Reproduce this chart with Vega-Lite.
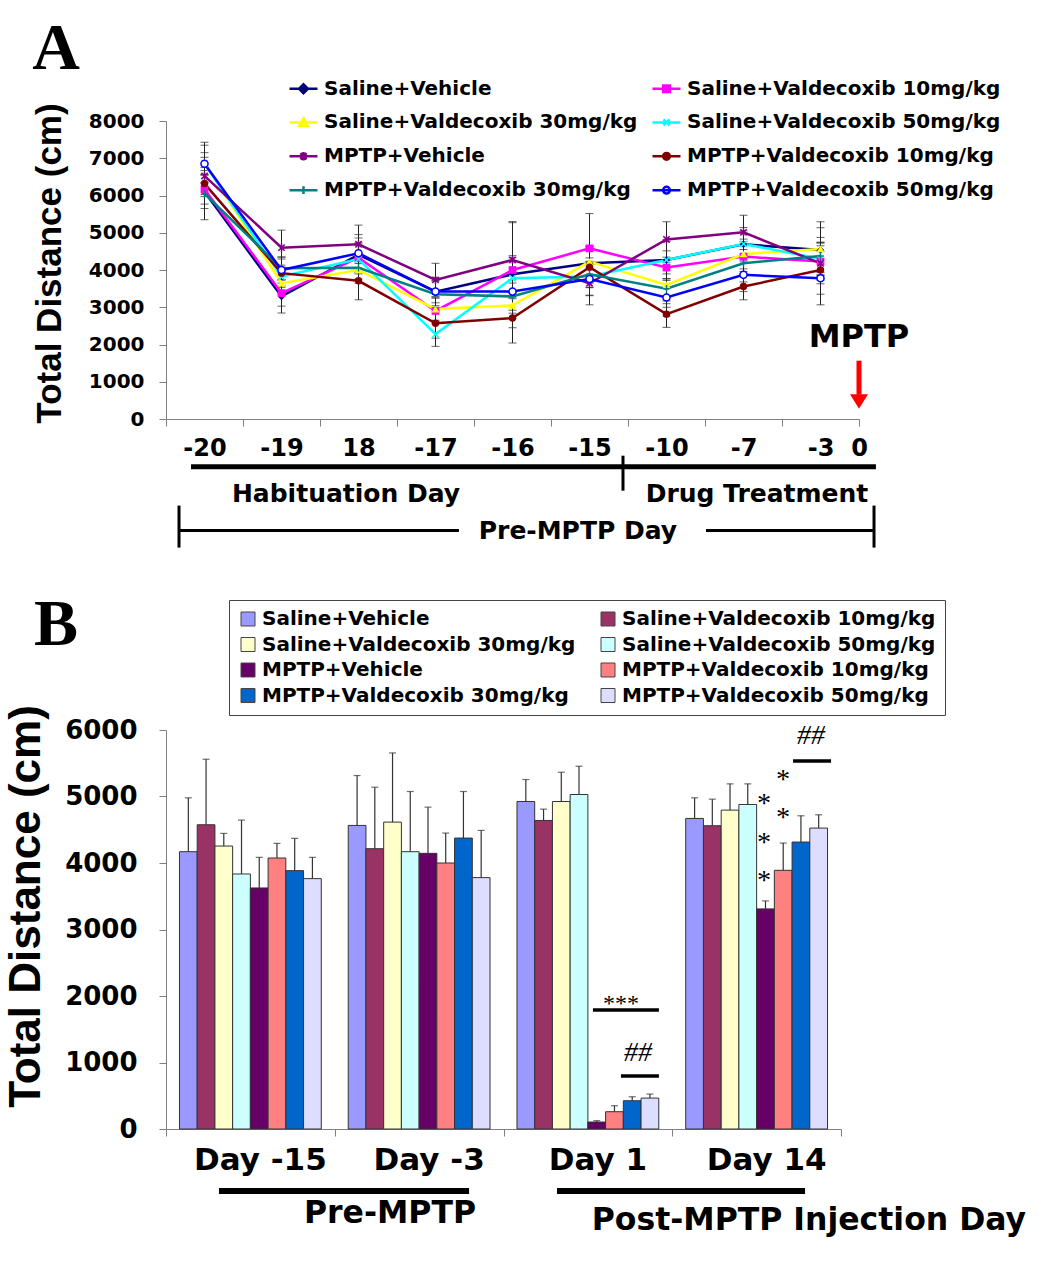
{
"$schema": "https://vega.github.io/schema/vega-lite/v6.json",
"background": "white",
"padding": {"left": 3, "top": 15, "right": 0, "bottom": 0},
"bounds": "flush",
"spacing": 311,
"config": {
  "view": {"stroke": null},
  "axis": {"grid": false, "domainColor": "#808080", "tickColor": "#808080", "labelColor": "black", "labelFont": "DejaVu Sans", "labelFontWeight": "bold", "titleColor": "black"},
  "text": {"font": "DejaVu Sans", "fontWeight": "bold", "color": "black"}
},
"resolve": {"scale": {"color": "independent", "x": "independent", "y": "independent"}, "legend": {"color": "independent"}},
"datasets": {
  "a": [
    {"t":0.5,"s":"Saline+Vehicle","v":6100,"e":450},{"t":1.5,"s":"Saline+Vehicle","v":3290,"e":445},{"t":2.5,"s":"Saline+Vehicle","v":4410,"e":450},{"t":3.5,"s":"Saline+Vehicle","v":3420,"e":300},{"t":4.5,"s":"Saline+Vehicle","v":3885,"e":500},{"t":5.5,"s":"Saline+Vehicle","v":4180,"e":450},{"t":6.5,"s":"Saline+Vehicle","v":4270,"e":500},{"t":7.5,"s":"Saline+Vehicle","v":4690,"e":450},{"t":8.5,"s":"Saline+Vehicle","v":4535,"e":600},
    {"t":0.5,"s":"Saline+Valdecoxib 10mg/kg","v":6170,"e":400},{"t":1.5,"s":"Saline+Valdecoxib 10mg/kg","v":3380,"e":350},{"t":2.5,"s":"Saline+Valdecoxib 10mg/kg","v":4330,"e":400},{"t":3.5,"s":"Saline+Valdecoxib 10mg/kg","v":2900,"e":350},{"t":4.5,"s":"Saline+Valdecoxib 10mg/kg","v":4000,"e":1300},{"t":5.5,"s":"Saline+Valdecoxib 10mg/kg","v":4580,"e":935},{"t":6.5,"s":"Saline+Valdecoxib 10mg/kg","v":4065,"e":450},{"t":7.5,"s":"Saline+Valdecoxib 10mg/kg","v":4360,"e":400},{"t":8.5,"s":"Saline+Valdecoxib 10mg/kg","v":4225,"e":500},
    {"t":0.5,"s":"Saline+Valdecoxib 30mg/kg","v":6880,"e":550},{"t":1.5,"s":"Saline+Valdecoxib 30mg/kg","v":3645,"e":300},{"t":2.5,"s":"Saline+Valdecoxib 30mg/kg","v":4000,"e":350},{"t":3.5,"s":"Saline+Valdecoxib 30mg/kg","v":2950,"e":300},{"t":4.5,"s":"Saline+Valdecoxib 30mg/kg","v":3050,"e":600},{"t":5.5,"s":"Saline+Valdecoxib 30mg/kg","v":4225,"e":400},{"t":6.5,"s":"Saline+Valdecoxib 30mg/kg","v":3600,"e":600},{"t":7.5,"s":"Saline+Valdecoxib 30mg/kg","v":4430,"e":400},{"t":8.5,"s":"Saline+Valdecoxib 30mg/kg","v":4565,"e":730},
    {"t":0.5,"s":"Saline+Valdecoxib 50mg/kg","v":6850,"e":300},{"t":1.5,"s":"Saline+Valdecoxib 50mg/kg","v":3825,"e":250},{"t":2.5,"s":"Saline+Valdecoxib 50mg/kg","v":4295,"e":400},{"t":3.5,"s":"Saline+Valdecoxib 50mg/kg","v":2280,"e":330},{"t":4.5,"s":"Saline+Valdecoxib 50mg/kg","v":3780,"e":550},{"t":5.5,"s":"Saline+Valdecoxib 50mg/kg","v":3825,"e":500},{"t":6.5,"s":"Saline+Valdecoxib 50mg/kg","v":4270,"e":550},{"t":7.5,"s":"Saline+Valdecoxib 50mg/kg","v":4700,"e":350},{"t":8.5,"s":"Saline+Valdecoxib 50mg/kg","v":4300,"e":450},
    {"t":0.5,"s":"MPTP+Vehicle","v":6525,"e":500},{"t":1.5,"s":"MPTP+Vehicle","v":4600,"e":470},{"t":2.5,"s":"MPTP+Vehicle","v":4690,"e":515},{"t":3.5,"s":"MPTP+Vehicle","v":3735,"e":445},{"t":4.5,"s":"MPTP+Vehicle","v":4270,"e":1000},{"t":5.5,"s":"MPTP+Vehicle","v":3645,"e":580},{"t":6.5,"s":"MPTP+Vehicle","v":4820,"e":475},{"t":7.5,"s":"MPTP+Vehicle","v":5010,"e":460},{"t":8.5,"s":"MPTP+Vehicle","v":4180,"e":550},
    {"t":0.5,"s":"MPTP+Valdecoxib 10mg/kg","v":6320,"e":350},{"t":1.5,"s":"MPTP+Valdecoxib 10mg/kg","v":3915,"e":380},{"t":2.5,"s":"MPTP+Valdecoxib 10mg/kg","v":3710,"e":510},{"t":3.5,"s":"MPTP+Valdecoxib 10mg/kg","v":2570,"e":400},{"t":4.5,"s":"MPTP+Valdecoxib 10mg/kg","v":2710,"e":670},{"t":5.5,"s":"MPTP+Valdecoxib 10mg/kg","v":4075,"e":550},{"t":6.5,"s":"MPTP+Valdecoxib 10mg/kg","v":2815,"e":355},{"t":7.5,"s":"MPTP+Valdecoxib 10mg/kg","v":3555,"e":355},{"t":8.5,"s":"MPTP+Valdecoxib 10mg/kg","v":4000,"e":650},
    {"t":0.5,"s":"MPTP+Valdecoxib 30mg/kg","v":6050,"e":700},{"t":1.5,"s":"MPTP+Valdecoxib 30mg/kg","v":4045,"e":300},{"t":2.5,"s":"MPTP+Valdecoxib 30mg/kg","v":4060,"e":300},{"t":3.5,"s":"MPTP+Valdecoxib 30mg/kg","v":3350,"e":350},{"t":4.5,"s":"MPTP+Valdecoxib 30mg/kg","v":3290,"e":450},{"t":5.5,"s":"MPTP+Valdecoxib 30mg/kg","v":3885,"e":350},{"t":6.5,"s":"MPTP+Valdecoxib 30mg/kg","v":3495,"e":400},{"t":7.5,"s":"MPTP+Valdecoxib 30mg/kg","v":4180,"e":500},{"t":8.5,"s":"MPTP+Valdecoxib 30mg/kg","v":4375,"e":500},
    {"t":0.5,"s":"MPTP+Valdecoxib 50mg/kg","v":6850,"e":500},{"t":1.5,"s":"MPTP+Valdecoxib 50mg/kg","v":4000,"e":350},{"t":2.5,"s":"MPTP+Valdecoxib 50mg/kg","v":4450,"e":500},{"t":3.5,"s":"MPTP+Valdecoxib 50mg/kg","v":3420,"e":380},{"t":4.5,"s":"MPTP+Valdecoxib 50mg/kg","v":3420,"e":500},{"t":5.5,"s":"MPTP+Valdecoxib 50mg/kg","v":3760,"e":450},{"t":6.5,"s":"MPTP+Valdecoxib 50mg/kg","v":3260,"e":500},{"t":7.5,"s":"MPTP+Valdecoxib 50mg/kg","v":3870,"e":450},{"t":8.5,"s":"MPTP+Valdecoxib 50mg/kg","v":3780,"e":715}
  ],
  "b": [
    {"d":"Day -15","g":"Saline+Vehicle","v":4170,"top":4980},{"d":"Day -15","g":"Saline+Valdecoxib 10mg/kg","v":4575,"top":5560},{"d":"Day -15","g":"Saline+Valdecoxib 30mg/kg","v":4255,"top":4445},{"d":"Day -15","g":"Saline+Valdecoxib 50mg/kg","v":3835,"top":4645},{"d":"Day -15","g":"MPTP+Vehicle","v":3625,"top":4085},{"d":"Day -15","g":"MPTP+Valdecoxib 10mg/kg","v":4075,"top":4295},{"d":"Day -15","g":"MPTP+Valdecoxib 30mg/kg","v":3885,"top":4370},{"d":"Day -15","g":"MPTP+Valdecoxib 50mg/kg","v":3765,"top":4085},
    {"d":"Day -3","g":"Saline+Vehicle","v":4565,"top":5315},{"d":"Day -3","g":"Saline+Valdecoxib 10mg/kg","v":4215,"top":5140},{"d":"Day -3","g":"Saline+Valdecoxib 30mg/kg","v":4615,"top":5655},{"d":"Day -3","g":"Saline+Valdecoxib 50mg/kg","v":4170,"top":5075},{"d":"Day -3","g":"MPTP+Vehicle","v":4145,"top":4840},{"d":"Day -3","g":"MPTP+Valdecoxib 10mg/kg","v":4000,"top":4450},{"d":"Day -3","g":"MPTP+Valdecoxib 30mg/kg","v":4375,"top":5075},{"d":"Day -3","g":"MPTP+Valdecoxib 50mg/kg","v":3780,"top":4490},
    {"d":"Day 1","g":"Saline+Vehicle","v":4925,"top":5255},{"d":"Day 1","g":"Saline+Valdecoxib 10mg/kg","v":4640,"top":4810},{"d":"Day 1","g":"Saline+Valdecoxib 30mg/kg","v":4925,"top":5365},{"d":"Day 1","g":"Saline+Valdecoxib 50mg/kg","v":5030,"top":5455},{"d":"Day 1","g":"MPTP+Vehicle","v":105,"top":125},{"d":"Day 1","g":"MPTP+Valdecoxib 10mg/kg","v":260,"top":350},{"d":"Day 1","g":"MPTP+Valdecoxib 30mg/kg","v":425,"top":485},{"d":"Day 1","g":"MPTP+Valdecoxib 50mg/kg","v":465,"top":525},
    {"d":"Day 14","g":"Saline+Vehicle","v":4670,"top":4980},{"d":"Day 14","g":"Saline+Valdecoxib 10mg/kg","v":4560,"top":4960},{"d":"Day 14","g":"Saline+Valdecoxib 30mg/kg","v":4795,"top":5190},{"d":"Day 14","g":"Saline+Valdecoxib 50mg/kg","v":4880,"top":5190},{"d":"Day 14","g":"MPTP+Vehicle","v":3310,"top":3430},{"d":"Day 14","g":"MPTP+Valdecoxib 10mg/kg","v":3890,"top":4300},{"d":"Day 14","g":"MPTP+Valdecoxib 30mg/kg","v":4315,"top":4710},{"d":"Day 14","g":"MPTP+Valdecoxib 50mg/kg","v":4525,"top":4725}
  ]
},
"vconcat": [
  {
    "width": 693,
    "height": 298,
    "layer": [
      {
        "data": {"name": "a"},
        "mark": {"type": "errorbar", "ticks": {"size": 8}, "color": "#222222", "thickness": 1},
        "encoding": {
          "x": {"field": "t", "type": "quantitative", "title": null, "scale": {"domain": [0, 9]},
            "axis": {"values": [0,0.5,1,1.5,2,2.5,3,3.5,4,4.5,5,5.5,6,6.5,7,7.5,8,8.5,9], "title": null, "tickSize": 7, "tickOpacity": {"condition": {"test": "datum.value % 1 != 0", "value": 0}, "value": 1}, "labelExpr": "datum.value == 9 ? '0' : (datum.value % 1 == 0 ? '' : ['-20','-19','18','-17','-16','-15','-10','-7','-3'][floor(datum.value)])", "labelFontSize": 24, "labelPadding": 10, "labelOverlap": false, "labelFlush": false, "labelBound": false}},
          "y": {"field": "v", "type": "quantitative", "title": "Total Distance (cm)", "scale": {"domain": [0, 8000]},
            "axis": {"values": [0,1000,2000,3000,4000,5000,6000,7000,8000], "format": "d", "title": "Total Distance (cm)", "titleFont": "Liberation Sans", "titleFontSize": 35, "titleFontWeight": "bold", "titleX": -117, "titleY": 142, "titleAngle": -90, "titleAlign": "center", "titleBaseline": "middle", "tickSize": 7, "labelFontSize": 20, "labelPadding": 15, "labelOverlap": false}},
          "yError": {"field": "e"}
        }
      },
      {
        "data": {"name": "a"},
        "mark": {"type": "line", "strokeWidth": 2.5},
        "encoding": {
          "x": {"field": "t", "type": "quantitative", "title": null, "scale": {"domain": [0, 9]},
            "axis": {"values": [0,0.5,1,1.5,2,2.5,3,3.5,4,4.5,5,5.5,6,6.5,7,7.5,8,8.5,9], "title": null, "tickSize": 7, "tickOpacity": {"condition": {"test": "datum.value % 1 != 0", "value": 0}, "value": 1}, "labelExpr": "datum.value == 9 ? '0' : (datum.value % 1 == 0 ? '' : ['-20','-19','18','-17','-16','-15','-10','-7','-3'][floor(datum.value)])", "labelFontSize": 24, "labelPadding": 10, "labelOverlap": false, "labelFlush": false, "labelBound": false}},
          "y": {"field": "v", "type": "quantitative", "title": "Total Distance (cm)", "scale": {"domain": [0, 8000]},
            "axis": {"values": [0,1000,2000,3000,4000,5000,6000,7000,8000], "format": "d", "title": "Total Distance (cm)", "titleFont": "Liberation Sans", "titleFontSize": 35, "titleFontWeight": "bold", "titleX": -117, "titleY": 142, "titleAngle": -90, "titleAlign": "center", "titleBaseline": "middle", "tickSize": 7, "labelFontSize": 20, "labelPadding": 15, "labelOverlap": false}},
          "color": {"field": "s", "type": "nominal",
            "scale": {"domain": ["Saline+Vehicle","Saline+Valdecoxib 10mg/kg","Saline+Valdecoxib 30mg/kg","Saline+Valdecoxib 50mg/kg","MPTP+Vehicle","MPTP+Valdecoxib 10mg/kg","MPTP+Valdecoxib 30mg/kg","MPTP+Valdecoxib 50mg/kg"],
                      "range": ["#000080","#FF00FF","#FFFF00","#00FFFF","#800080","#800000","#008080","#0000FF"]},
            "legend": {"title": null, "orient": "none", "legendX": 122, "legendY": -48, "columns": 2, "columnPadding": 9, "rowPadding": 7.9, "padding": 0,
              "values": ["Saline+Vehicle","Saline+Valdecoxib 30mg/kg","MPTP+Vehicle","MPTP+Valdecoxib 30mg/kg","Saline+Valdecoxib 10mg/kg","Saline+Valdecoxib 50mg/kg","MPTP+Valdecoxib 10mg/kg","MPTP+Valdecoxib 50mg/kg"],
              "symbolSize": 784, "symbolStrokeWidth": 2.5, "labelFont": "DejaVu Sans", "labelFontWeight": "bold", "labelFontSize": 20, "labelOffset": 5, "labelLimit": 500, "labelColor": "black",
              "encode": {"symbols": {"update": {
                "shape": {"signal": "['M-1,0H1M0,-0.32L0.32,0L0,0.32L-0.32,0Z','M-1,0H1M-0.24,-0.24H0.24V0.24H-0.24Z','M-1,0H1M0,-0.3L0.3,0.24L-0.3,0.24Z','M-1,0H1M-0.22,-0.22L0.22,0.22M-0.22,0.22L0.22,-0.22','M-1,0H1M-0.22,-0.22L0.22,0.22M-0.22,0.22L0.22,-0.22M0,-0.3V0.3','M-1,0H1M-0.24,0A0.24,0.24,0,1,0,0.24,0A0.24,0.24,0,1,0,-0.24,0Z','M-1,0H1M0,-0.28V0.28','M-1,0H1M-0.24,0A0.24,0.24,0,1,0,0.24,0A0.24,0.24,0,1,0,-0.24,0Z'][indexof(['Saline+Vehicle','Saline+Valdecoxib 10mg/kg','Saline+Valdecoxib 30mg/kg','Saline+Valdecoxib 50mg/kg','MPTP+Vehicle','MPTP+Valdecoxib 10mg/kg','MPTP+Valdecoxib 30mg/kg','MPTP+Valdecoxib 50mg/kg'], datum.value)]"},
                "fill": {"signal": "['#000080','#FF00FF','#FFFF00','transparent','transparent','#800000','transparent','#ffffff'][indexof(['Saline+Vehicle','Saline+Valdecoxib 10mg/kg','Saline+Valdecoxib 30mg/kg','Saline+Valdecoxib 50mg/kg','MPTP+Vehicle','MPTP+Valdecoxib 10mg/kg','MPTP+Valdecoxib 30mg/kg','MPTP+Valdecoxib 50mg/kg'], datum.value)]"},
                "strokeWidth": {"value": 2.5}
              }}}}}
        }
      },
      {
        "data": {"name": "a"},
        "transform": [{"filter": {"field": "s", "equal": "Saline+Vehicle"}}],
        "mark": {"type": "point", "shape": "diamond", "filled": true, "color": "#000080", "size": 55, "opacity": 1},
        "encoding": {
          "x": {"field": "t", "type": "quantitative", "title": null, "scale": {"domain": [0, 9]},
            "axis": {"values": [0,0.5,1,1.5,2,2.5,3,3.5,4,4.5,5,5.5,6,6.5,7,7.5,8,8.5,9], "title": null, "tickSize": 7, "tickOpacity": {"condition": {"test": "datum.value % 1 != 0", "value": 0}, "value": 1}, "labelExpr": "datum.value == 9 ? '0' : (datum.value % 1 == 0 ? '' : ['-20','-19','18','-17','-16','-15','-10','-7','-3'][floor(datum.value)])", "labelFontSize": 24, "labelPadding": 10, "labelOverlap": false, "labelFlush": false, "labelBound": false}},
          "y": {"field": "v", "type": "quantitative", "title": "Total Distance (cm)", "scale": {"domain": [0, 8000]},
            "axis": {"values": [0,1000,2000,3000,4000,5000,6000,7000,8000], "format": "d", "title": "Total Distance (cm)", "titleFont": "Liberation Sans", "titleFontSize": 35, "titleFontWeight": "bold", "titleX": -117, "titleY": 142, "titleAngle": -90, "titleAlign": "center", "titleBaseline": "middle", "tickSize": 7, "labelFontSize": 20, "labelPadding": 15, "labelOverlap": false}}
        }
      },
      {
        "data": {"name": "a"},
        "transform": [{"filter": {"field": "s", "equal": "Saline+Valdecoxib 10mg/kg"}}],
        "mark": {"type": "point", "shape": "square", "filled": true, "color": "#FF00FF", "size": 60, "opacity": 1},
        "encoding": {
          "x": {"field": "t", "type": "quantitative", "title": null, "scale": {"domain": [0, 9]},
            "axis": {"values": [0,0.5,1,1.5,2,2.5,3,3.5,4,4.5,5,5.5,6,6.5,7,7.5,8,8.5,9], "title": null, "tickSize": 7, "tickOpacity": {"condition": {"test": "datum.value % 1 != 0", "value": 0}, "value": 1}, "labelExpr": "datum.value == 9 ? '0' : (datum.value % 1 == 0 ? '' : ['-20','-19','18','-17','-16','-15','-10','-7','-3'][floor(datum.value)])", "labelFontSize": 24, "labelPadding": 10, "labelOverlap": false, "labelFlush": false, "labelBound": false}},
          "y": {"field": "v", "type": "quantitative", "title": "Total Distance (cm)", "scale": {"domain": [0, 8000]},
            "axis": {"values": [0,1000,2000,3000,4000,5000,6000,7000,8000], "format": "d", "title": "Total Distance (cm)", "titleFont": "Liberation Sans", "titleFontSize": 35, "titleFontWeight": "bold", "titleX": -117, "titleY": 142, "titleAngle": -90, "titleAlign": "center", "titleBaseline": "middle", "tickSize": 7, "labelFontSize": 20, "labelPadding": 15, "labelOverlap": false}}
        }
      },
      {
        "data": {"name": "a"},
        "transform": [{"filter": {"field": "s", "equal": "Saline+Valdecoxib 30mg/kg"}}],
        "mark": {"type": "point", "shape": "triangle-up", "filled": true, "color": "#FFFF00", "size": 60, "opacity": 1},
        "encoding": {
          "x": {"field": "t", "type": "quantitative", "title": null, "scale": {"domain": [0, 9]},
            "axis": {"values": [0,0.5,1,1.5,2,2.5,3,3.5,4,4.5,5,5.5,6,6.5,7,7.5,8,8.5,9], "title": null, "tickSize": 7, "tickOpacity": {"condition": {"test": "datum.value % 1 != 0", "value": 0}, "value": 1}, "labelExpr": "datum.value == 9 ? '0' : (datum.value % 1 == 0 ? '' : ['-20','-19','18','-17','-16','-15','-10','-7','-3'][floor(datum.value)])", "labelFontSize": 24, "labelPadding": 10, "labelOverlap": false, "labelFlush": false, "labelBound": false}},
          "y": {"field": "v", "type": "quantitative", "title": "Total Distance (cm)", "scale": {"domain": [0, 8000]},
            "axis": {"values": [0,1000,2000,3000,4000,5000,6000,7000,8000], "format": "d", "title": "Total Distance (cm)", "titleFont": "Liberation Sans", "titleFontSize": 35, "titleFontWeight": "bold", "titleX": -117, "titleY": 142, "titleAngle": -90, "titleAlign": "center", "titleBaseline": "middle", "tickSize": 7, "labelFontSize": 20, "labelPadding": 15, "labelOverlap": false}}
        }
      },
      {
        "data": {"name": "a"},
        "transform": [{"filter": {"field": "s", "equal": "Saline+Valdecoxib 50mg/kg"}}],
        "mark": {"type": "point", "shape": "M-1,-1L1,1M-1,1L1,-1", "filled": false, "color": "#00FFFF", "strokeWidth": 1.5, "size": 40, "opacity": 1},
        "encoding": {
          "x": {"field": "t", "type": "quantitative", "title": null, "scale": {"domain": [0, 9]},
            "axis": {"values": [0,0.5,1,1.5,2,2.5,3,3.5,4,4.5,5,5.5,6,6.5,7,7.5,8,8.5,9], "title": null, "tickSize": 7, "tickOpacity": {"condition": {"test": "datum.value % 1 != 0", "value": 0}, "value": 1}, "labelExpr": "datum.value == 9 ? '0' : (datum.value % 1 == 0 ? '' : ['-20','-19','18','-17','-16','-15','-10','-7','-3'][floor(datum.value)])", "labelFontSize": 24, "labelPadding": 10, "labelOverlap": false, "labelFlush": false, "labelBound": false}},
          "y": {"field": "v", "type": "quantitative", "title": "Total Distance (cm)", "scale": {"domain": [0, 8000]},
            "axis": {"values": [0,1000,2000,3000,4000,5000,6000,7000,8000], "format": "d", "title": "Total Distance (cm)", "titleFont": "Liberation Sans", "titleFontSize": 35, "titleFontWeight": "bold", "titleX": -117, "titleY": 142, "titleAngle": -90, "titleAlign": "center", "titleBaseline": "middle", "tickSize": 7, "labelFontSize": 20, "labelPadding": 15, "labelOverlap": false}}
        }
      },
      {
        "data": {"name": "a"},
        "transform": [{"filter": {"field": "s", "equal": "MPTP+Vehicle"}}],
        "mark": {"type": "point", "shape": "M-1,-1L1,1M-1,1L1,-1M0,-1.3V1.3", "filled": false, "color": "#800080", "strokeWidth": 1.5, "size": 40, "opacity": 1},
        "encoding": {
          "x": {"field": "t", "type": "quantitative", "title": null, "scale": {"domain": [0, 9]},
            "axis": {"values": [0,0.5,1,1.5,2,2.5,3,3.5,4,4.5,5,5.5,6,6.5,7,7.5,8,8.5,9], "title": null, "tickSize": 7, "tickOpacity": {"condition": {"test": "datum.value % 1 != 0", "value": 0}, "value": 1}, "labelExpr": "datum.value == 9 ? '0' : (datum.value % 1 == 0 ? '' : ['-20','-19','18','-17','-16','-15','-10','-7','-3'][floor(datum.value)])", "labelFontSize": 24, "labelPadding": 10, "labelOverlap": false, "labelFlush": false, "labelBound": false}},
          "y": {"field": "v", "type": "quantitative", "title": "Total Distance (cm)", "scale": {"domain": [0, 8000]},
            "axis": {"values": [0,1000,2000,3000,4000,5000,6000,7000,8000], "format": "d", "title": "Total Distance (cm)", "titleFont": "Liberation Sans", "titleFontSize": 35, "titleFontWeight": "bold", "titleX": -117, "titleY": 142, "titleAngle": -90, "titleAlign": "center", "titleBaseline": "middle", "tickSize": 7, "labelFontSize": 20, "labelPadding": 15, "labelOverlap": false}}
        }
      },
      {
        "data": {"name": "a"},
        "transform": [{"filter": {"field": "s", "equal": "MPTP+Valdecoxib 10mg/kg"}}],
        "mark": {"type": "point", "shape": "circle", "filled": true, "color": "#800000", "size": 55, "opacity": 1},
        "encoding": {
          "x": {"field": "t", "type": "quantitative", "title": null, "scale": {"domain": [0, 9]},
            "axis": {"values": [0,0.5,1,1.5,2,2.5,3,3.5,4,4.5,5,5.5,6,6.5,7,7.5,8,8.5,9], "title": null, "tickSize": 7, "tickOpacity": {"condition": {"test": "datum.value % 1 != 0", "value": 0}, "value": 1}, "labelExpr": "datum.value == 9 ? '0' : (datum.value % 1 == 0 ? '' : ['-20','-19','18','-17','-16','-15','-10','-7','-3'][floor(datum.value)])", "labelFontSize": 24, "labelPadding": 10, "labelOverlap": false, "labelFlush": false, "labelBound": false}},
          "y": {"field": "v", "type": "quantitative", "title": "Total Distance (cm)", "scale": {"domain": [0, 8000]},
            "axis": {"values": [0,1000,2000,3000,4000,5000,6000,7000,8000], "format": "d", "title": "Total Distance (cm)", "titleFont": "Liberation Sans", "titleFontSize": 35, "titleFontWeight": "bold", "titleX": -117, "titleY": 142, "titleAngle": -90, "titleAlign": "center", "titleBaseline": "middle", "tickSize": 7, "labelFontSize": 20, "labelPadding": 15, "labelOverlap": false}}
        }
      },
      {
        "data": {"name": "a"},
        "transform": [{"filter": {"field": "s", "equal": "MPTP+Valdecoxib 30mg/kg"}}],
        "mark": {"type": "point", "shape": "M0,-1.2V1.2M-1,0H1", "filled": false, "color": "#008080", "strokeWidth": 1.5, "size": 40, "opacity": 1},
        "encoding": {
          "x": {"field": "t", "type": "quantitative", "title": null, "scale": {"domain": [0, 9]},
            "axis": {"values": [0,0.5,1,1.5,2,2.5,3,3.5,4,4.5,5,5.5,6,6.5,7,7.5,8,8.5,9], "title": null, "tickSize": 7, "tickOpacity": {"condition": {"test": "datum.value % 1 != 0", "value": 0}, "value": 1}, "labelExpr": "datum.value == 9 ? '0' : (datum.value % 1 == 0 ? '' : ['-20','-19','18','-17','-16','-15','-10','-7','-3'][floor(datum.value)])", "labelFontSize": 24, "labelPadding": 10, "labelOverlap": false, "labelFlush": false, "labelBound": false}},
          "y": {"field": "v", "type": "quantitative", "title": "Total Distance (cm)", "scale": {"domain": [0, 8000]},
            "axis": {"values": [0,1000,2000,3000,4000,5000,6000,7000,8000], "format": "d", "title": "Total Distance (cm)", "titleFont": "Liberation Sans", "titleFontSize": 35, "titleFontWeight": "bold", "titleX": -117, "titleY": 142, "titleAngle": -90, "titleAlign": "center", "titleBaseline": "middle", "tickSize": 7, "labelFontSize": 20, "labelPadding": 15, "labelOverlap": false}}
        }
      },
      {
        "data": {"name": "a"},
        "transform": [{"filter": {"field": "s", "equal": "MPTP+Valdecoxib 50mg/kg"}}],
        "mark": {"type": "point", "shape": "circle", "filled": true, "fill": "#FFFFFF", "stroke": "#0000FF", "strokeWidth": 1.5, "size": 50, "opacity": 1},
        "encoding": {
          "x": {"field": "t", "type": "quantitative", "title": null, "scale": {"domain": [0, 9]},
            "axis": {"values": [0,0.5,1,1.5,2,2.5,3,3.5,4,4.5,5,5.5,6,6.5,7,7.5,8,8.5,9], "title": null, "tickSize": 7, "tickOpacity": {"condition": {"test": "datum.value % 1 != 0", "value": 0}, "value": 1}, "labelExpr": "datum.value == 9 ? '0' : (datum.value % 1 == 0 ? '' : ['-20','-19','18','-17','-16','-15','-10','-7','-3'][floor(datum.value)])", "labelFontSize": 24, "labelPadding": 10, "labelOverlap": false, "labelFlush": false, "labelBound": false}},
          "y": {"field": "v", "type": "quantitative", "title": "Total Distance (cm)", "scale": {"domain": [0, 8000]},
            "axis": {"values": [0,1000,2000,3000,4000,5000,6000,7000,8000], "format": "d", "title": "Total Distance (cm)", "titleFont": "Liberation Sans", "titleFontSize": 35, "titleFontWeight": "bold", "titleX": -117, "titleY": 142, "titleAngle": -90, "titleAlign": "center", "titleBaseline": "middle", "tickSize": 7, "labelFontSize": 20, "labelPadding": 15, "labelOverlap": false}}
        }
      },
      {
        "data": {"values": [{"x": 0.325, "x2": 9.22, "y": -1280}]},
        "mark": {"type": "rule", "strokeWidth": 5, "color": "black"},
        "encoding": {
          "x": {"field": "x", "type": "quantitative", "title": null, "scale": {"domain": [0, 9]},
            "axis": {"values": [0,0.5,1,1.5,2,2.5,3,3.5,4,4.5,5,5.5,6,6.5,7,7.5,8,8.5,9], "title": null, "tickSize": 7, "tickOpacity": {"condition": {"test": "datum.value % 1 != 0", "value": 0}, "value": 1}, "labelExpr": "datum.value == 9 ? '0' : (datum.value % 1 == 0 ? '' : ['-20','-19','18','-17','-16','-15','-10','-7','-3'][floor(datum.value)])", "labelFontSize": 24, "labelPadding": 10, "labelOverlap": false, "labelFlush": false, "labelBound": false}},
          "x2": {"field": "x2"},
          "y": {"field": "y", "type": "quantitative", "title": "Total Distance (cm)", "scale": {"domain": [0, 8000]},
            "axis": {"values": [0,1000,2000,3000,4000,5000,6000,7000,8000], "format": "d", "title": "Total Distance (cm)", "titleFont": "Liberation Sans", "titleFontSize": 35, "titleFontWeight": "bold", "titleX": -117, "titleY": 142, "titleAngle": -90, "titleAlign": "center", "titleBaseline": "middle", "tickSize": 7, "labelFontSize": 20, "labelPadding": 15, "labelOverlap": false}}
        }
      },
      {
        "data": {"values": [{"x": 5.935, "y": -985, "y2": -1924}, {"x": 0.169, "y": -2325, "y2": -3452}, {"x": 9.195, "y": -2325, "y2": -3452}]},
        "mark": {"type": "rule", "strokeWidth": 3, "color": "black"},
        "encoding": {
          "x": {"field": "x", "type": "quantitative", "title": null, "scale": {"domain": [0, 9]},
            "axis": {"values": [0,0.5,1,1.5,2,2.5,3,3.5,4,4.5,5,5.5,6,6.5,7,7.5,8,8.5,9], "title": null, "tickSize": 7, "tickOpacity": {"condition": {"test": "datum.value % 1 != 0", "value": 0}, "value": 1}, "labelExpr": "datum.value == 9 ? '0' : (datum.value % 1 == 0 ? '' : ['-20','-19','18','-17','-16','-15','-10','-7','-3'][floor(datum.value)])", "labelFontSize": 24, "labelPadding": 10, "labelOverlap": false, "labelFlush": false, "labelBound": false}},
          "y": {"field": "y", "type": "quantitative", "title": "Total Distance (cm)", "scale": {"domain": [0, 8000]},
            "axis": {"values": [0,1000,2000,3000,4000,5000,6000,7000,8000], "format": "d", "title": "Total Distance (cm)", "titleFont": "Liberation Sans", "titleFontSize": 35, "titleFontWeight": "bold", "titleX": -117, "titleY": 142, "titleAngle": -90, "titleAlign": "center", "titleBaseline": "middle", "tickSize": 7, "labelFontSize": 20, "labelPadding": 15, "labelOverlap": false}},
          "y2": {"field": "y2"}
        }
      },
      {
        "data": {"values": [{"x": 0.169, "x2": 3.805, "y": -2995}, {"x": 7.013, "x2": 9.195, "y": -2995}]},
        "mark": {"type": "rule", "strokeWidth": 3, "color": "black"},
        "encoding": {
          "x": {"field": "x", "type": "quantitative", "title": null, "scale": {"domain": [0, 9]},
            "axis": {"values": [0,0.5,1,1.5,2,2.5,3,3.5,4,4.5,5,5.5,6,6.5,7,7.5,8,8.5,9], "title": null, "tickSize": 7, "tickOpacity": {"condition": {"test": "datum.value % 1 != 0", "value": 0}, "value": 1}, "labelExpr": "datum.value == 9 ? '0' : (datum.value % 1 == 0 ? '' : ['-20','-19','18','-17','-16','-15','-10','-7','-3'][floor(datum.value)])", "labelFontSize": 24, "labelPadding": 10, "labelOverlap": false, "labelFlush": false, "labelBound": false}},
          "x2": {"field": "x2"},
          "y": {"field": "y", "type": "quantitative", "title": "Total Distance (cm)", "scale": {"domain": [0, 8000]},
            "axis": {"values": [0,1000,2000,3000,4000,5000,6000,7000,8000], "format": "d", "title": "Total Distance (cm)", "titleFont": "Liberation Sans", "titleFontSize": 35, "titleFontWeight": "bold", "titleX": -117, "titleY": 142, "titleAngle": -90, "titleAlign": "center", "titleBaseline": "middle", "tickSize": 7, "labelFontSize": 20, "labelPadding": 15, "labelOverlap": false}}
        }
      },
      {
        "data": {"values": [{"x": 2.338, "y": -2004, "txt": "Habituation Day"}, {"x": 7.675, "y": -2004, "txt": "Drug Treatment"}, {"x": 5.35, "y": -2995, "txt": "Pre-MPTP Day"}]},
        "mark": {"type": "text", "fontSize": 25, "align": "center", "baseline": "middle"},
        "encoding": {
          "x": {"field": "x", "type": "quantitative", "title": null, "scale": {"domain": [0, 9]},
            "axis": {"values": [0,0.5,1,1.5,2,2.5,3,3.5,4,4.5,5,5.5,6,6.5,7,7.5,8,8.5,9], "title": null, "tickSize": 7, "tickOpacity": {"condition": {"test": "datum.value % 1 != 0", "value": 0}, "value": 1}, "labelExpr": "datum.value == 9 ? '0' : (datum.value % 1 == 0 ? '' : ['-20','-19','18','-17','-16','-15','-10','-7','-3'][floor(datum.value)])", "labelFontSize": 24, "labelPadding": 10, "labelOverlap": false, "labelFlush": false, "labelBound": false}},
          "y": {"field": "y", "type": "quantitative", "title": "Total Distance (cm)", "scale": {"domain": [0, 8000]},
            "axis": {"values": [0,1000,2000,3000,4000,5000,6000,7000,8000], "format": "d", "title": "Total Distance (cm)", "titleFont": "Liberation Sans", "titleFontSize": 35, "titleFontWeight": "bold", "titleX": -117, "titleY": 142, "titleAngle": -90, "titleAlign": "center", "titleBaseline": "middle", "tickSize": 7, "labelFontSize": 20, "labelPadding": 15, "labelOverlap": false}},
          "text": {"field": "txt"}
        }
      },
      {
        "data": {"values": [{"x": 9, "y": 2208, "txt": "MPTP"}]},
        "mark": {"type": "text", "fontSize": 32, "align": "center", "baseline": "middle"},
        "encoding": {
          "x": {"field": "x", "type": "quantitative", "title": null, "scale": {"domain": [0, 9]},
            "axis": {"values": [0,0.5,1,1.5,2,2.5,3,3.5,4,4.5,5,5.5,6,6.5,7,7.5,8,8.5,9], "title": null, "tickSize": 7, "tickOpacity": {"condition": {"test": "datum.value % 1 != 0", "value": 0}, "value": 1}, "labelExpr": "datum.value == 9 ? '0' : (datum.value % 1 == 0 ? '' : ['-20','-19','18','-17','-16','-15','-10','-7','-3'][floor(datum.value)])", "labelFontSize": 24, "labelPadding": 10, "labelOverlap": false, "labelFlush": false, "labelBound": false}},
          "y": {"field": "y", "type": "quantitative", "title": "Total Distance (cm)", "scale": {"domain": [0, 8000]},
            "axis": {"values": [0,1000,2000,3000,4000,5000,6000,7000,8000], "format": "d", "title": "Total Distance (cm)", "titleFont": "Liberation Sans", "titleFontSize": 35, "titleFontWeight": "bold", "titleX": -117, "titleY": 142, "titleAngle": -90, "titleAlign": "center", "titleBaseline": "middle", "tickSize": 7, "labelFontSize": 20, "labelPadding": 15, "labelOverlap": false}},
          "text": {"field": "txt"}
        }
      },
      {
        "data": {"values": [{"x": 9, "y": 1565, "y2": 653}]},
        "mark": {"type": "rule", "strokeWidth": 5, "color": "#FF0000"},
        "encoding": {
          "x": {"field": "x", "type": "quantitative", "title": null, "scale": {"domain": [0, 9]},
            "axis": {"values": [0,0.5,1,1.5,2,2.5,3,3.5,4,4.5,5,5.5,6,6.5,7,7.5,8,8.5,9], "title": null, "tickSize": 7, "tickOpacity": {"condition": {"test": "datum.value % 1 != 0", "value": 0}, "value": 1}, "labelExpr": "datum.value == 9 ? '0' : (datum.value % 1 == 0 ? '' : ['-20','-19','18','-17','-16','-15','-10','-7','-3'][floor(datum.value)])", "labelFontSize": 24, "labelPadding": 10, "labelOverlap": false, "labelFlush": false, "labelBound": false}},
          "y": {"field": "y", "type": "quantitative", "title": "Total Distance (cm)", "scale": {"domain": [0, 8000]},
            "axis": {"values": [0,1000,2000,3000,4000,5000,6000,7000,8000], "format": "d", "title": "Total Distance (cm)", "titleFont": "Liberation Sans", "titleFontSize": 35, "titleFontWeight": "bold", "titleX": -117, "titleY": 142, "titleAngle": -90, "titleAlign": "center", "titleBaseline": "middle", "tickSize": 7, "labelFontSize": 20, "labelPadding": 15, "labelOverlap": false}},
          "y2": {"field": "y2"}
        }
      },
      {
        "data": {"values": [{"x": 9, "y": 518}]},
        "mark": {"type": "point", "shape": "M-1,-0.6L1,-0.6L0,1Z", "size": 324, "filled": true, "color": "#FF0000", "opacity": 1},
        "encoding": {
          "x": {"field": "x", "type": "quantitative", "title": null, "scale": {"domain": [0, 9]},
            "axis": {"values": [0,0.5,1,1.5,2,2.5,3,3.5,4,4.5,5,5.5,6,6.5,7,7.5,8,8.5,9], "title": null, "tickSize": 7, "tickOpacity": {"condition": {"test": "datum.value % 1 != 0", "value": 0}, "value": 1}, "labelExpr": "datum.value == 9 ? '0' : (datum.value % 1 == 0 ? '' : ['-20','-19','18','-17','-16','-15','-10','-7','-3'][floor(datum.value)])", "labelFontSize": 24, "labelPadding": 10, "labelOverlap": false, "labelFlush": false, "labelBound": false}},
          "y": {"field": "y", "type": "quantitative", "title": "Total Distance (cm)", "scale": {"domain": [0, 8000]},
            "axis": {"values": [0,1000,2000,3000,4000,5000,6000,7000,8000], "format": "d", "title": "Total Distance (cm)", "titleFont": "Liberation Sans", "titleFontSize": 35, "titleFontWeight": "bold", "titleX": -117, "titleY": 142, "titleAngle": -90, "titleAlign": "center", "titleBaseline": "middle", "tickSize": 7, "labelFontSize": 20, "labelPadding": 15, "labelOverlap": false}}
        }
      },
      {
        "data": {"values": [{"x": -1.429, "y": 9936, "txt": "A"}]},
        "mark": {"type": "text", "font": "Liberation Serif", "fontWeight": "bold", "fontSize": 66, "align": "center", "baseline": "middle"},
        "encoding": {
          "x": {"field": "x", "type": "quantitative", "title": null, "scale": {"domain": [0, 9]},
            "axis": {"values": [0,0.5,1,1.5,2,2.5,3,3.5,4,4.5,5,5.5,6,6.5,7,7.5,8,8.5,9], "title": null, "tickSize": 7, "tickOpacity": {"condition": {"test": "datum.value % 1 != 0", "value": 0}, "value": 1}, "labelExpr": "datum.value == 9 ? '0' : (datum.value % 1 == 0 ? '' : ['-20','-19','18','-17','-16','-15','-10','-7','-3'][floor(datum.value)])", "labelFontSize": 24, "labelPadding": 10, "labelOverlap": false, "labelFlush": false, "labelBound": false}},
          "y": {"field": "y", "type": "quantitative", "title": "Total Distance (cm)", "scale": {"domain": [0, 8000]},
            "axis": {"values": [0,1000,2000,3000,4000,5000,6000,7000,8000], "format": "d", "title": "Total Distance (cm)", "titleFont": "Liberation Sans", "titleFontSize": 35, "titleFontWeight": "bold", "titleX": -117, "titleY": 142, "titleAngle": -90, "titleAlign": "center", "titleBaseline": "middle", "tickSize": 7, "labelFontSize": 20, "labelPadding": 15, "labelOverlap": false}},
          "text": {"field": "txt"}
        }
      }
    ]
  },
  {
    "width": 675,
    "height": 399,
    "resolve": {"scale": {"x": "independent"}, "axis": {"x": "independent"}},
    "layer": [
      {
        "data": {"name": "b"},
        "layer": [
          {
            "mark": {"type": "rule", "color": "#333333", "strokeWidth": 1.2},
            "encoding": {
              "x": {"field": "d", "type": "nominal", "scale": {"domain": ["Day -15", "Day -3", "Day 1", "Day 14"], "paddingInner": 0, "paddingOuter": 0},
                "axis": {"orient": "bottom", "title": null, "ticks": false, "tickSize": 0, "domain": false, "labelAngle": 0, "labelAlign": "center", "labelBaseline": "top", "labelFontSize": 31, "labelPadding": 16, "labelOffset": 10}},
              "xOffset": {"field": "g", "type": "nominal", "scale": {"domain": ["Saline+Vehicle","Saline+Valdecoxib 10mg/kg","Saline+Valdecoxib 30mg/kg","Saline+Valdecoxib 50mg/kg","MPTP+Vehicle","MPTP+Valdecoxib 10mg/kg","MPTP+Valdecoxib 30mg/kg","MPTP+Valdecoxib 50mg/kg"], "paddingInner": 0, "paddingOuter": 0.76}},
              "y": {"field": "v", "type": "quantitative", "scale": {"domain": [0, 6000]}},
              "y2": {"field": "top"}
            }
          },
          {
            "mark": {"type": "tick", "orient": "horizontal", "color": "#333333", "thickness": 1.2, "size": 7},
            "encoding": {
              "x": {"field": "d", "type": "nominal", "scale": {"domain": ["Day -15", "Day -3", "Day 1", "Day 14"], "paddingInner": 0, "paddingOuter": 0},
                "axis": {"orient": "bottom", "title": null, "ticks": false, "tickSize": 0, "domain": false, "labelAngle": 0, "labelAlign": "center", "labelBaseline": "top", "labelFontSize": 31, "labelPadding": 16, "labelOffset": 10}},
              "xOffset": {"field": "g", "type": "nominal", "scale": {"domain": ["Saline+Vehicle","Saline+Valdecoxib 10mg/kg","Saline+Valdecoxib 30mg/kg","Saline+Valdecoxib 50mg/kg","MPTP+Vehicle","MPTP+Valdecoxib 10mg/kg","MPTP+Valdecoxib 30mg/kg","MPTP+Valdecoxib 50mg/kg"], "paddingInner": 0, "paddingOuter": 0.76}},
              "y": {"field": "top", "type": "quantitative", "scale": {"domain": [0, 6000]}}
            }
          },
          {
            "mark": {"type": "bar", "stroke": "#333333", "strokeWidth": 1},
            "encoding": {
              "x": {"field": "d", "type": "nominal", "scale": {"domain": ["Day -15", "Day -3", "Day 1", "Day 14"], "paddingInner": 0, "paddingOuter": 0},
                "axis": {"orient": "bottom", "title": null, "ticks": false, "tickSize": 0, "domain": false, "labelAngle": 0, "labelAlign": "center", "labelBaseline": "top", "labelFontSize": 31, "labelPadding": 16, "labelOffset": 10}},
              "xOffset": {"field": "g", "type": "nominal", "scale": {"domain": ["Saline+Vehicle","Saline+Valdecoxib 10mg/kg","Saline+Valdecoxib 30mg/kg","Saline+Valdecoxib 50mg/kg","MPTP+Vehicle","MPTP+Valdecoxib 10mg/kg","MPTP+Valdecoxib 30mg/kg","MPTP+Valdecoxib 50mg/kg"], "paddingInner": 0, "paddingOuter": 0.76}},
              "y": {"field": "v", "type": "quantitative", "scale": {"domain": [0, 6000]},
                "axis": {"values": [0,1000,2000,3000,4000,5000,6000], "format": "d", "title": "Total Distance (cm)", "titleFont": "Liberation Sans", "titleFontSize": 44, "titleFontWeight": "bold", "titleX": -140, "titleY": 176, "titleAngle": -90, "titleAlign": "center", "titleBaseline": "middle", "tickSize": 7, "labelFontSize": 26, "labelPadding": 22}},
              "color": {"field": "g", "type": "nominal",
                "scale": {"domain": ["Saline+Vehicle","Saline+Valdecoxib 10mg/kg","Saline+Valdecoxib 30mg/kg","Saline+Valdecoxib 50mg/kg","MPTP+Vehicle","MPTP+Valdecoxib 10mg/kg","MPTP+Valdecoxib 30mg/kg","MPTP+Valdecoxib 50mg/kg"],
                          "range": ["#9999FF","#993366","#FFFFCC","#CCFFFF","#660066","#FF8080","#0066CC","#DDDDFF"]},
                "legend": {"title": null, "orient": "none", "legendX": 63, "legendY": -130, "columns": 2, "columnPadding": 22, "rowPadding": 5.5, "padding": 9, "strokeColor": "#444444",
                  "values": ["Saline+Vehicle","Saline+Valdecoxib 30mg/kg","MPTP+Vehicle","MPTP+Valdecoxib 30mg/kg","Saline+Valdecoxib 10mg/kg","Saline+Valdecoxib 50mg/kg","MPTP+Valdecoxib 10mg/kg","MPTP+Valdecoxib 50mg/kg"],
                  "symbolType": "square", "symbolSize": 196, "symbolStrokeColor": "#444444", "symbolStrokeWidth": 1, "labelFont": "DejaVu Sans", "labelFontWeight": "bold", "labelFontSize": 20, "labelOffset": 4, "labelLimit": 500, "labelColor": "black"}}
            }
          }
        ]
      },
      {
        "layer": [
          {
            "data": {"values": [{"x": 0.314, "x2": 1.796, "y": -932}, {"x": 2.317, "x2": 3.787, "y": -932}]},
            "mark": {"type": "rule", "strokeWidth": 6, "color": "black"},
            "encoding": {
              "x": {"field": "x", "type": "quantitative", "scale": {"domain": [0, 4]},
                "axis": {"orient": "bottom", "values": [0, 1, 2, 3, 4], "labels": false, "tickSize": 7, "title": null, "domain": true}},
              "x2": {"field": "x2"},
              "y": {"field": "y", "type": "quantitative", "scale": {"domain": [0, 6000]}}
            }
          },
          {
            "data": {"values": [{"x": 2.53, "x2": 2.921, "y": 1790}, {"x": 2.696, "x2": 2.921, "y": 797}, {"x": 3.716, "x2": 3.941, "y": 5534}]},
            "mark": {"type": "rule", "strokeWidth": 3.5, "color": "black"},
            "encoding": {
              "x": {"field": "x", "type": "quantitative", "scale": {"domain": [0, 4]}},
              "x2": {"field": "x2"},
              "y": {"field": "y", "type": "quantitative", "scale": {"domain": [0, 6000]}}
            }
          },
          {
            "data": {"values": [{"x": 1.327, "y": -1278, "txt": "Pre-MPTP"}, {"x": 3.81, "y": -1383, "txt": "Post-MPTP Injection Day"}]},
            "mark": {"type": "text", "fontSize": 31.5, "align": "center", "baseline": "middle"},
            "encoding": {
              "x": {"field": "x", "type": "quantitative", "scale": {"domain": [0, 4]}},
              "y": {"field": "y", "type": "quantitative", "scale": {"domain": [0, 6000]}},
              "text": {"field": "txt"}
            }
          },
          {
            "data": {"values": [{"x": 2.696, "y": 1970, "txt": "***"}]},
            "mark": {"type": "text", "font": "Liberation Serif", "fontWeight": "normal", "fontSize": 24, "align": "center", "baseline": "middle", "dy": 6},
            "encoding": {
              "x": {"field": "x", "type": "quantitative", "scale": {"domain": [0, 4]}},
              "y": {"field": "y", "type": "quantitative", "scale": {"domain": [0, 6000]}},
              "text": {"field": "txt"}
            }
          },
          {
            "data": {"values": [{"x": 2.797, "y": 1143, "txt": "##"}, {"x": 3.822, "y": 5910, "txt": "##"}, {"x": 3.536, "y": 4887, "txt": "*"}, {"x": 3.536, "y": 4301, "txt": "*"}, {"x": 3.536, "y": 3729, "txt": "*"}, {"x": 3.649, "y": 5248, "txt": "*"}, {"x": 3.649, "y": 4677, "txt": "*"}]},
            "mark": {"type": "text", "font": "Liberation Serif", "fontWeight": "normal", "fontStyle": "italic", "fontSize": 28, "align": "center", "baseline": "middle"},
            "encoding": {
              "x": {"field": "x", "type": "quantitative", "scale": {"domain": [0, 4]}},
              "y": {"field": "y", "type": "quantitative", "scale": {"domain": [0, 6000]}},
              "text": {"field": "txt"}
            }
          },
          {
            "data": {"values": [{"x": -0.652, "y": 7579, "txt": "B"}]},
            "mark": {"type": "text", "font": "Liberation Serif", "fontWeight": "bold", "fontSize": 66, "align": "center", "baseline": "middle"},
            "encoding": {
              "x": {"field": "x", "type": "quantitative", "scale": {"domain": [0, 4]}},
              "y": {"field": "y", "type": "quantitative", "scale": {"domain": [0, 6000]}},
              "text": {"field": "txt"}
            }
          }
        ]
      }
    ]
  }
]
}
